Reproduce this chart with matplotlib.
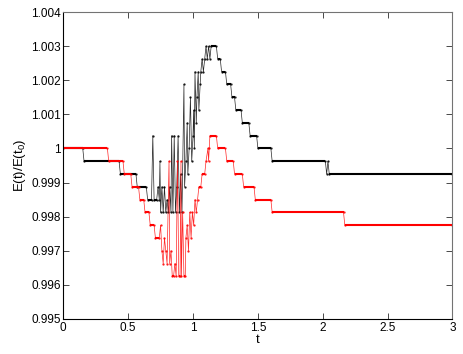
import numpy as np
import matplotlib
matplotlib.use('Agg')
import matplotlib.pyplot as plt

plt.rcParams['font.family'] = ['Liberation Sans', 'DejaVu Sans']
plt.rcParams['mathtext.fontset'] = 'custom'
plt.rcParams['mathtext.rm'] = 'Liberation Sans'
plt.rcParams['mathtext.it'] = 'Liberation Sans'

# energy is quantised in steps of dE, levels given as integer multiples
dE = 0.000375

# black series: (t, level)
t_black = [0.00, 0.15, 0.16, 0.43, 0.44, 0.56, 0.57, 0.64, 0.65, 0.68, 0.69, 0.70,
           0.72, 0.73, 0.74, 0.745, 0.75, 0.76, 0.77, 0.78, 0.79, 0.80, 0.81, 0.82,
           0.83, 0.835, 0.845, 0.855, 0.865, 0.875, 0.885, 0.895, 0.905, 0.915,
           0.93, 0.935, 0.945, 0.955, 0.96, 0.97, 0.98, 0.99, 1.00, 1.005, 1.01,
           1.015, 1.025, 1.03, 1.04, 1.045, 1.055, 1.06, 1.07, 1.08, 1.09, 1.10,
           1.11, 1.12, 1.13, 1.14, 1.18, 1.19, 1.21, 1.22, 1.25, 1.26, 1.29, 1.30,
           1.32, 1.33, 1.37, 1.38, 1.43, 1.44, 1.49, 1.50, 1.60, 1.61, 2.02, 2.03,
           2.04, 2.05, 3.00]
k_black = [0, 0, -1, -1, -2, -2, -3, -3, -4, -4, 1, -4,
           -4, -3, -4, -1, -5, -3, -5, -3, -5, -4, -5, -3,
           -5, 1, -5, 1, -5, -3, 1, -5, -2, -5,
           5, -3, -1, 2, -2, 0, 4, -1, 1, 3, 0,
           6, 2, 4, 6, 3, 5, 6, 7, 6, 7, 8,
           7, 8, 7, 8, 8, 7, 7, 6, 6, 5, 5, 4,
           4, 3, 3, 2, 2, 1, 1, 0, 0, -1, -1, -2,
           -1, -2, -2]

# red series: (t, level)
t_red = [0.00, 0.34, 0.35, 0.46, 0.47, 0.52, 0.53, 0.58, 0.59, 0.62, 0.63, 0.66,
         0.67, 0.70, 0.71, 0.74, 0.75, 0.76, 0.77, 0.78, 0.79, 0.80, 0.815, 0.82,
         0.83, 0.84, 0.85, 0.86, 0.87, 0.88, 0.89, 0.90, 0.907, 0.91, 0.92, 0.93,
         0.94, 0.945, 0.955, 0.965, 0.975, 0.985, 0.995, 1.005, 1.015, 1.025,
         1.035, 1.045, 1.06, 1.07, 1.09, 1.10, 1.115, 1.12, 1.125, 1.13, 1.18,
         1.19, 1.25, 1.26, 1.31, 1.32, 1.38, 1.39, 1.47, 1.48, 1.60, 1.61, 2.16,
         2.17, 3.00]
k_red = [0, 0, -1, -1, -2, -2, -3, -3, -4, -4, -5, -5,
         -6, -6, -7, -7, -6, -8, -9, -7, -8, -9, -1, -9,
         -8, -10, -10, -9, -10, -1, -10, -10, -1, -10, -5, -10,
         -10, -7, -6, -8, -5, -7, -5, -6, -4, -5,
         -4, -3, -3, -2, -2, -1, 0, -1, 0, 1, 1,
         0, 0, -1, -1, -2, -2, -3, -3, -4, -4, -5, -5,
         -6, -6]


def draw_series(ax, t, k, color):
    t = np.array(t)
    e = 1 + np.array(k) * dE
    ax.plot(t, e, '-', color=color, lw=0.5, marker='.', ms=1.3, alpha=0.85)
    # flat parts look heavier in the original because of the dense samples
    flat = np.where(np.diff(e) == 0)[0]
    ax.hlines(e[flat], t[flat], t[flat + 1], color=color, lw=1.5)


fig = plt.figure(figsize=(4.63, 3.54), dpi=100)
ax = fig.add_axes([0.1367, 0.0989, 0.8406, 0.8672])

draw_series(ax, t_black, k_black, 'k')
draw_series(ax, t_red, k_red, 'r')

ax.set_xlim(0, 3)
ax.set_ylim(0.995, 1.004)
ax.set_xticks([0, 0.5, 1, 1.5, 2, 2.5, 3])
ax.set_xticklabels(['0', '0.5', '1', '1.5', '2', '2.5', '3'])
ax.set_yticks(np.arange(0.995, 1.0041, 0.001))
ax.set_yticklabels(['0.995', '0.996', '0.997', '0.998', '0.999', '1',
                    '1.001', '1.002', '1.003', '1.004'])
ax.tick_params(direction='in', top=True, right=True, length=4, width=0.5,
               labelsize=8.5, pad=2)
for s in ['top', 'right']:
    ax.spines[s].set_color('0.45')
for s in ax.spines.values():
    s.set_linewidth(0.8)

ax.set_xlabel('t', fontsize=9.5, labelpad=0)
ax.set_ylabel('E(t)/E(t$_0$)', fontsize=9.5, labelpad=2)

fig.savefig('out.png', dpi=100)
